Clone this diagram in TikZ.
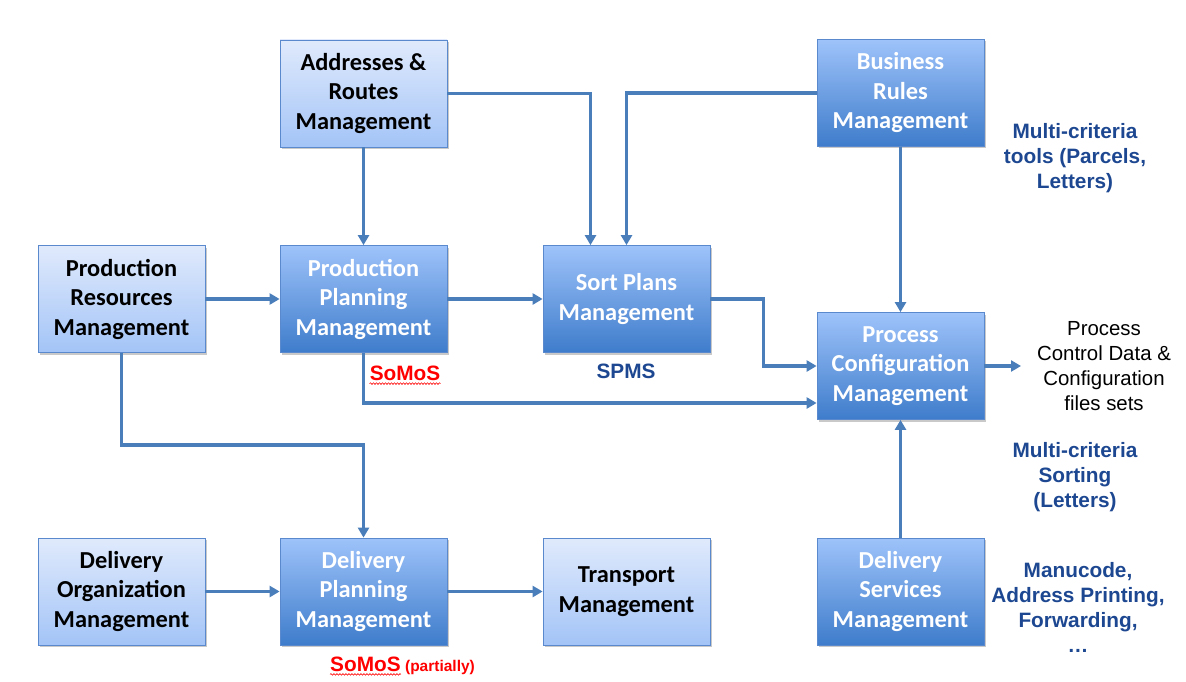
\documentclass[tikz,border=0pt]{standalone}
\usepackage{fontspec}
\setmainfont{Liberation Sans}
\newfontfamily\boxfont{Carlito}
\usetikzlibrary{arrows.meta,shadows,decorations.pathmorphing}
\definecolor{connblue}{RGB}{74,126,187}
\definecolor{boxborder}{RGB}{90,138,205}
\definecolor{lighttop}{RGB}{224,234,252}
\definecolor{lightbot}{RGB}{163,196,247}
\definecolor{darktop}{RGB}{158,195,250}
\definecolor{darkbot}{RGB}{62,124,203}
\definecolor{navytext}{RGB}{29,72,145}
\definecolor{redtext}{RGB}{255,0,0}
\tikzset{
  basebox/.style={draw=boxborder, line width=0.8pt, minimum width=167pt, minimum height=107pt,
    inner sep=0pt, align=center, font=\boxfont\bfseries\fontsize{24.4}{29.5}\selectfont,
    drop shadow={shadow xshift=2pt, shadow yshift=-2pt, opacity=0.3, fill=black!70}},
  lightbox/.style={basebox, top color=lighttop, bottom color=lightbot, text=black},
  darkbox/.style={basebox, top color=darktop, bottom color=darkbot, text=white},
  conn/.style={draw=connblue, line width=3.5pt, -{Triangle[length=10pt,width=11pt]}},
  navylbl/.style={text=navytext, align=center, inner sep=0pt, font=\bfseries\fontsize{20.8}{25}\selectfont},
  blacklbl/.style={text=black, align=center, inner sep=0pt, font=\fontsize{20.4}{25}\selectfont},
  redlbl/.style={text=redtext, inner sep=0pt, font=\bfseries\fontsize{20.8}{25}\selectfont},
  wavy/.style={draw=redtext, line width=0.6pt, decorate, decoration={snake, amplitude=0.8pt, segment length=3pt}}
}
\begin{document}
\begin{tikzpicture}[x=1pt,y=-1pt]
\useasboundingbox (0,0) rectangle (1186,682);
% boxes
\node[lightbox] (addr)  at (363.5,93.5)  {Addresses \&\\Routes\\Management};
\node[darkbox]  (rules) at (900.5,93)    {Business\\Rules\\Management};
\node[lightbox] (pres)  at (121.5,299)   {Production\\Resources\\Management};
\node[darkbox]  (pplan) at (363.5,299)   {Production\\Planning\\Management};
\node[darkbox]  (sort)  at (626.5,299)   {Sort Plans\\Management};
\node[darkbox]  (proc)  at (900.5,366)   {Process\\Configuration\\Management};
\node[lightbox] (dorg)  at (121.5,591.5) {Delivery\\Organization\\Management};
\node[darkbox]  (dplan) at (363.5,591.5) {Delivery\\Planning\\Management};
\node[lightbox] (trans) at (626.5,591.5) {Transport\\Management};
\node[darkbox]  (dserv) at (900.5,591.5) {Delivery\\Services\\Management};
\coordinate (out) at (1021,366);
% connectors
\draw[conn] (addr) -- (pplan);
\draw[conn] (addr.east) -| ([xshift=-36pt]sort.north);
\draw[conn] (rules.west) -| (sort.north);
\draw[conn] (rules) -- (proc);
\draw[conn] (pres) -- (pplan);
\draw[conn] (pplan) -- (sort);
\draw[conn] (sort.east) -- ++(53,0) |- (proc.west);
\draw[conn] (pplan.south) |- ([yshift=-37pt]proc.west);
\draw[conn] (pres.south) -- ++(0,92) -| (dplan.north);
\draw[conn] (dorg) -- (dplan);
\draw[conn] (dplan) -- (trans);
\draw[conn] (dserv) -- (proc);
\draw[conn] (proc.east) -- (out);
% labels
\node[redlbl] (somos1) at (405,373) {SoMoS};
\draw[wavy] ([yshift=-3pt]somos1.south west) -- ([yshift=-3pt]somos1.south east);
\node[navylbl] (spms) at (626,371) {SPMS};
\node[navylbl] (mct) at (1075,158) {Multi-criteria\\tools (Parcels,\\Letters)};
\node[blacklbl] (pcd) at (1104,366) {Process\\Control Data \&\\Configuration\\files sets};
\node[navylbl] (mcs) at (1075,477) {Multi-criteria\\Sorting\\(Letters)};
\node[navylbl] (manu) at (1078,607) {Manucode,\\Address Printing,\\Forwarding,\\\ldots};
\node[redlbl, anchor=base west] (somos2) at (330,671) {SoMoS};
\node[redlbl, anchor=base west, font=\bfseries\fontsize{15.5}{17}\selectfont] (partial) at ([xshift=4pt]somos2.base east) {(partially)};
\draw[wavy] ([yshift=-3pt]somos2.south west) -- ([yshift=-3pt]somos2.south east);
\end{tikzpicture}
\end{document}
